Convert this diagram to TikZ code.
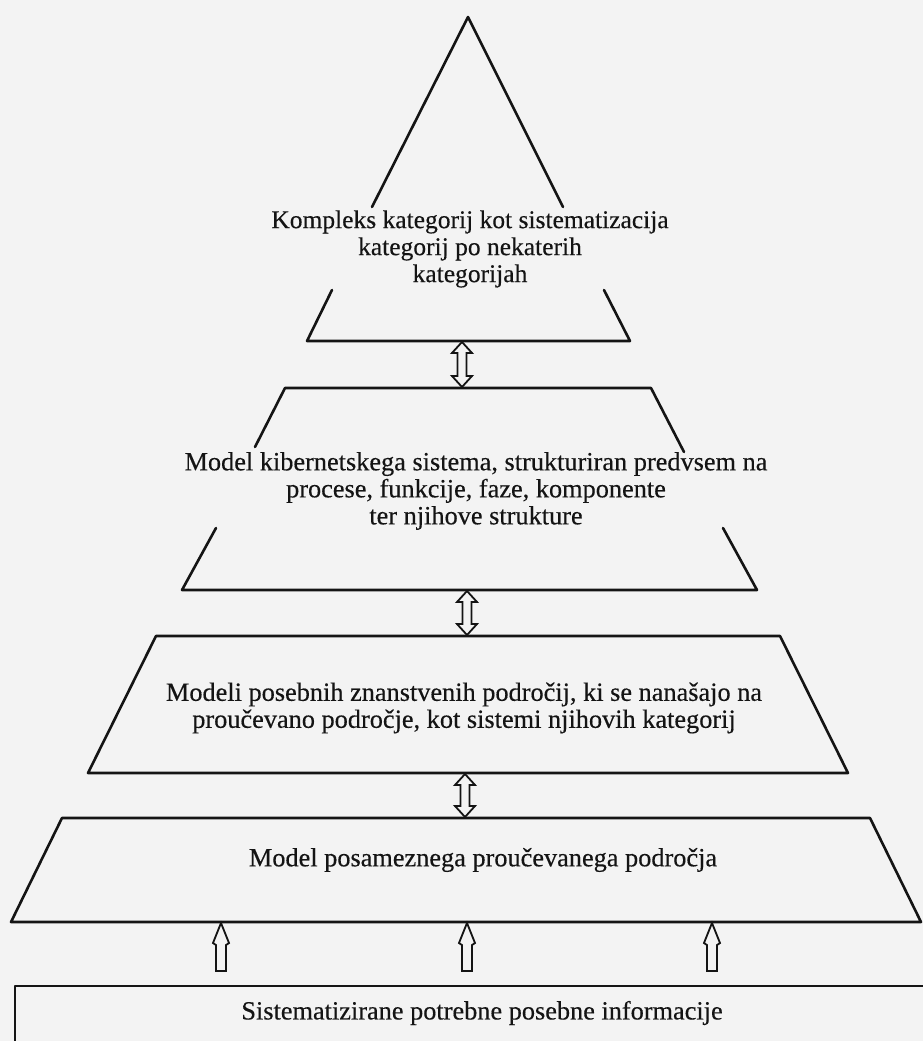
\documentclass[tikz,border=0pt]{standalone}
\usepackage{fontspec}
\setmainfont{Liberation Serif}
\newfontfamily\scanfont{Liberation Serif}[FakeBold=0.35]
\usetikzlibrary{calc}
\definecolor{paper}{HTML}{F3F3F3}
\definecolor{ink}{HTML}{141414}
% hollow double arrow: centre x, top y, bottom y
\newcommand{\HollowDbl}[3]{%
  \draw[arrline] (#1,#2) -- ($(#1,#2)+(10,11)$) -- ($(#1,#2)+(4.5,11)$)
    -- ($(#1,#3)+(4.5,-11)$) -- ($(#1,#3)+(10,-11)$) -- (#1,#3)
    -- ($(#1,#3)+(-10,-11)$) -- ($(#1,#3)+(-4.5,-11)$)
    -- ($(#1,#2)+(-4.5,11)$) -- ($(#1,#2)+(-10,11)$) -- cycle;}
% hollow up arrow: centre x, tip y, tail y
\newcommand{\HollowUp}[3]{%
  \draw[arrline] (#1,#2) -- ($(#1,#2)+(8,20)$) -- ($(#1,#2)+(5,22)$)
    -- ($(#1,#3)+(5,0)$) -- ($(#1,#3)+(-5,0)$)
    -- ($(#1,#2)+(-5,22)$) -- ($(#1,#2)+(-8,20)$) -- cycle;}
\begin{document}
\begin{tikzpicture}[x=1pt,y=-1pt,
  edge/.style={line width=2.6pt, line cap=round, line join=round, draw=ink},
  arrline/.style={draw=ink, fill=paper, line width=1.8pt, line join=miter},
  lbl/.style={align=center, inner sep=0pt, text=ink, font=\scanfont\fontsize{26.3}{27}\selectfont},
  lblA/.style={lbl, font=\scanfont\fontsize{25.5}{27}\selectfont}
]
\fill[paper] (0,0) rectangle (923,1041);
\useasboundingbox (0,0) rectangle (923,1041);
\clip (0,0) rectangle (923,1041);

% level 1: triangle with broken legs
\coordinate (apex) at (468,17);
\coordinate (l1a) at (372,207);  \coordinate (r1a) at (563,207);
\coordinate (l1b) at (332,290);  \coordinate (r1b) at (604,290);
\coordinate (l1c) at (307,341);  \coordinate (r1c) at (630,341);
\draw[edge] (l1a) -- (apex) -- (r1a);
\draw[edge] (l1b) -- (l1c) -- (r1c) -- (r1b);

% level 2
\coordinate (l2a) at (285,388);  \coordinate (r2a) at (651,388);
\coordinate (l2b) at (255,447);  \coordinate (r2b) at (684,452);
\coordinate (l2c) at (216,528);  \coordinate (r2c) at (723,528);
\coordinate (l2d) at (182,590);  \coordinate (r2d) at (757,590);
\draw[edge] (l2b) -- (l2a) -- (r2a) -- (r2b);
\draw[edge] (l2c) -- (l2d) -- (r2d) -- (r2c);

% level 3
\coordinate (l3a) at (156,636);  \coordinate (r3a) at (780,636);
\coordinate (l3b) at (88,773);   \coordinate (r3b) at (848,773);
\draw[edge] (l3a) -- (r3a) -- (r3b) -- (l3b) -- cycle;

% level 4
\coordinate (l4a) at (62,818);   \coordinate (r4a) at (870,818);
\coordinate (l4b) at (11,922);   \coordinate (r4b) at (921,922);
\draw[edge] (l4a) -- (r4a) -- (r4b) -- (l4b) -- cycle;

% level 5: box running off the page
\coordinate (l5a) at (15,986);   \coordinate (r5a) at (940,986);
\draw[edge] (15,1060) -- (l5a) -- (r5a);

% texts
\node[lblA] (t1) at (470,249) {Kompleks kategorij kot sistematizacija\\kategorij po nekaterih\\kategorijah};
\node[lbl] (t2) at (476,491) {Model kibernetskega sistema, strukturiran predvsem na\\procese, funkcije, faze, komponente\\ter njihove strukture};
\node[lbl] (t3) at (464,708) {Modeli posebnih znanstvenih področij, ki se nanašajo na\\proučevano področje, kot sistemi njihovih kategorij};
\node[lbl] (t4) at (483,860) {Model posameznega proučevanega področja};
\node[lbl] (t5) at (482,1013) {Sistematizirane potrebne posebne informacije};

% connecting arrows between levels
\HollowDbl{462}{342}{387}
\HollowDbl{467}{591}{635}
\HollowDbl{465}{774}{817}
\HollowUp{221}{923}{971}
\HollowUp{467}{923}{971}
\HollowUp{712}{923}{971}
\end{tikzpicture}
\end{document}
